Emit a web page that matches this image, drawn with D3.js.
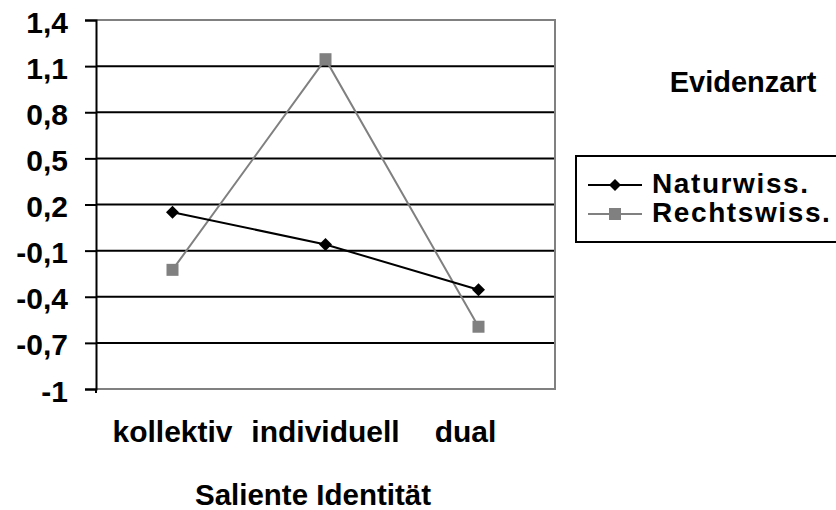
<!DOCTYPE html>
<html><head><meta charset="utf-8">
<script src="https://cdn.jsdelivr.net/npm/d3@7/dist/d3.min.js"></script>
<style>
body{margin:0;background:#fff;}
text{font-family:"Liberation Sans",Arial,sans-serif;font-weight:bold;fill:#000;}
</style></head>
<body><svg id="c" width="836" height="510"></svg>
<script>
const categories = ["kollektiv", "individuell", "dual"];
const naturwiss = [0.15, -0.06, -0.355];
const rechtswiss = [-0.225, 1.145, -0.595];
const yTicks = [1.4, 1.1, 0.8, 0.5, 0.2, -0.1, -0.4, -0.7, -1];
const yTickLabels = ["1,4", "1,1", "0,8", "0,5", "0,2", "-0,1", "-0,4", "-0,7", "-1"];
const seriesNames = ["Naturwiss.", "Rechtswiss."];
const legendTitle = "Evidenzart";
const xTitle = "Saliente Identität";

const svg = d3.select("#c");
const L = 96, R = 555, T = 20, B = 389;
const x = d3.scaleBand().domain(categories).range([L, R]);
const y = d3.scaleLinear().domain([-1, 1.4]).range([B, T]);
const FS = 30;
const FF = "Liberation Sans, Arial, sans-serif";

// gridlines
svg.append("g").selectAll("line").data(yTicks.filter(v => v !== 1.4 && v !== -1)).join("line")
  .attr("x1", L).attr("x2", R).attr("y1", d => y(d)).attr("y2", d => y(d))
  .attr("stroke", "#000").attr("stroke-width", 2);
// plot border (gray)
svg.append("path").attr("d", `M${L},${y(1.4)}H${R}V${y(-1)}H${L}`)
  .attr("fill", "none").attr("stroke", "#808080").attr("stroke-width", 2);

// y axis
const yAxis = d3.axisLeft(y).tickValues(yTicks).tickSize(11).tickPadding(17)
  .tickFormat((d, i) => yTickLabels[i]);
const gy = svg.append("g").attr("transform", `translate(${L},0)`).call(yAxis);
gy.select(".domain").attr("stroke", "#000").attr("stroke-width", 2);
gy.selectAll(".tick line").attr("stroke", "#000").attr("stroke-width", 2);
gy.selectAll(".tick text").attr("font-size", FS).attr("font-family", FF)
  .attr("font-weight", "bold").attr("fill", "#000").attr("dy", "0.4em");
// small tick at bottom-left
svg.append("line").attr("x1", L).attr("x2", L).attr("y1", B).attr("y2", B + 4)
  .attr("stroke", "#000").attr("stroke-width", 2);

// x labels
const xAxis = d3.axisBottom(x).tickSize(0).tickPadding(32);
const gx = svg.append("g").attr("transform", `translate(0,${B})`).call(xAxis);
gx.select(".domain").remove();
gx.selectAll(".tick text").attr("font-size", FS).attr("font-family", FF)
  .attr("font-weight", "bold").attr("fill", "#000").attr("dy", "0.71em")
  .attr("dx", (d, i) => i === 2 ? -13 : 0);

svg.append("text").attr("x", 313).attr("y", 505).attr("text-anchor", "middle")
  .attr("font-size", 29.5).text(xTitle);

const cx = d => x(d) + x.bandwidth() / 2;
const line = d3.line().x((d, i) => cx(categories[i])).y(d => y(d));

// Rechtswiss
svg.append("path").datum(rechtswiss).attr("d", line).attr("fill", "none")
  .attr("stroke", "#808080").attr("stroke-width", 2);
svg.append("g").selectAll("rect").data(rechtswiss).join("rect")
  .attr("x", (d, i) => cx(categories[i]) - 6).attr("y", d => y(d) - 6)
  .attr("width", 12).attr("height", 12).attr("fill", "#808080");
// Naturwiss
svg.append("path").datum(naturwiss).attr("d", line).attr("fill", "none")
  .attr("stroke", "#000").attr("stroke-width", 2);
svg.append("g").selectAll("path.m").data(naturwiss).join("path")
  .attr("transform", (d, i) => `translate(${cx(categories[i])},${y(d)})`)
  .attr("d", "M0,-6.5L6.5,0L0,6.5L-6.5,0Z").attr("fill", "#000");

// legend
svg.append("text").attr("x", 743).attr("y", 92).attr("text-anchor", "middle")
  .attr("font-size", 29).text(legendTitle);
svg.append("rect").attr("x", 576).attr("y", 156).attr("width", 300).attr("height", 86)
  .attr("fill", "none").attr("stroke", "#000").attr("stroke-width", 2);
const lg = svg.append("g");
const rows = [{name: seriesNames[0], color: "#000", y: 185, m: "d"}, {name: seriesNames[1], color: "#808080", y: 214, m: "s"}];
rows.forEach(r => {
  lg.append("line").attr("x1", 588).attr("x2", 642).attr("y1", r.y).attr("y2", r.y)
    .attr("stroke", r.color).attr("stroke-width", 2);
  if (r.m === "d") lg.append("path").attr("transform", `translate(615,${r.y})`).attr("d", "M0,-6L6,0L0,6L-6,0Z").attr("fill", r.color);
  else lg.append("rect").attr("x", 609).attr("y", r.y - 6).attr("width", 12).attr("height", 12).attr("fill", r.color);
  lg.append("text").attr("x", 652).attr("y", r.y + 8).attr("font-size", 28)
    .attr("letter-spacing", 1.6).text(r.name);
});
</script></body></html>
